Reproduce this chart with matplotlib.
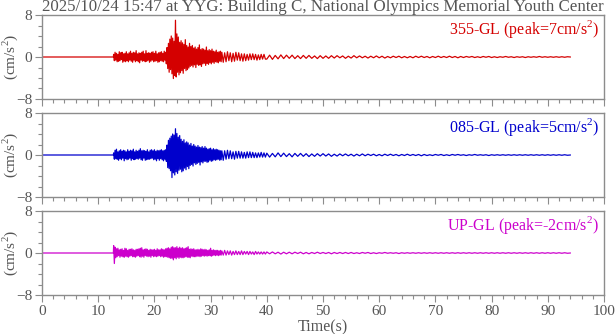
import numpy as np
import matplotlib.pyplot as plt

plt.rcParams['font.family'] = ['Liberation Serif', 'DejaVu Serif']
plt.rcParams['mathtext.fontset'] = 'custom'
plt.rcParams['mathtext.rm'] = 'Liberation Serif'

title = "2025/10/24 15:47 at YYG: Building C, National Olympics Memorial Youth Center"

# sampling grid: quiet lead-in, strong motion (0.125 s), late S (0.25 s), coda (0.5 s)
t_pre = [0.0, 12.7]
t_main = np.arange(12.75, 32.0, 0.125)
t_mid = np.arange(32.0, 40.0, 0.25)
t_coda = np.arange(40.0, 94.01, 0.5)

names = ["355-GL", "085-GL", "UP-GL"]
peaks = [7, 5, -2]
colors = ["#d40000", "#0000cc", "#cc00cc"]

ns_main = [0.5, -0.7,
           0.9, -0.6, 0.7, -0.9, 0.5, -0.8, 1.0, -0.7,
           0.8, -0.5, 0.9, -1.0, 0.6, -0.8, 0.7, -0.9,
           1.0, -0.7, 0.6, -0.9, 0.8, -0.6, 1.1, -0.8,
           0.7, -1.0, 0.9, -0.6, 0.8, -0.9, 1.2, -0.7,
           0.6, -0.9, 0.8, -1.1, 0.7, -0.6, 0.9, -0.8,
           1.1, -0.7, 0.6, -0.9, 1.2, -0.8, 0.7, -0.6,
           0.8, -1.0, 0.7, -0.8, 0.9, -0.6, 1.0, -0.9,
           0.7, -0.8, 1.1, -0.7, 0.6, -1.0, 0.8, -0.9,
           0.9, -0.7, 1.0, -0.8, 0.7, -0.9, 1.1, -0.6,
           0.9, -1.3, 1.8, -2.2, 2.6, -2.9, 3.4, -2.4,
           4.0, -3.2, 3.6, -4.1, 3.0, -3.5, 7.0, -3.8,
           4.4, -2.9, 3.8, -3.4, 2.8, -3.0, 3.1, -2.6,
           2.7, -3.1, 2.4, -2.2, 3.3, -2.6, 2.2, -2.4,
           1.9, -2.1, 2.6, -1.8, 2.0, -1.6, 2.2, -1.9,
           1.7, -1.5, 1.9, -2.0, 1.5, -1.4, 1.8, -1.6,
           2.3, -1.5, 1.4, -1.8, 1.6, -1.3, 1.5, -1.2,
           1.3, -1.6, 1.9, -1.2, 1.2, -1.4, 1.4, -1.1,
           1.2, -1.3, 1.5, -1.0, 1.1, -1.2, 1.0, -0.9,
           1.3, -1.0, 0.9, -1.1, 1.0, -0.8, 1.1, -0.9]
ns_mid = [0.9, -1.0, 0.8, -0.9, 1.0, -0.7, 0.8, -0.9,
          0.7, -0.8, 0.9, -0.6, 0.8, -0.7, 0.6, -0.8,
          0.6, -0.7, 0.5, -0.6, 0.6, -0.5, 0.6, -0.5,
          0.5, -0.6, 0.4, -0.5, 0.5, -0.4, 0.5, -0.4]
ns_coda = [-0.4, 0.35, -0.45, 0.3, -0.35, 0.4, -0.3, 0.35, -0.25, 0.35,
           -0.3, 0.25, -0.3, 0.3, -0.25, 0.3, -0.25, 0.2, -0.3, 0.25,
           -0.25, 0.2, -0.25, 0.25, -0.2, 0.25, -0.15, 0.2, -0.25, 0.15,
           -0.2, 0.25, -0.15, 0.2, -0.15, 0.15, -0.2, 0.15, -0.15, 0.2,
           -0.15, 0.15, -0.2, 0.1, -0.15, 0.15, -0.1, 0.15, -0.15, 0.1,
           -0.15, 0.1, -0.15, 0.15, -0.1, 0.15, -0.1, 0.1, -0.15, 0.1,
           -0.1, 0.15, -0.1, 0.1, -0.1, 0.15, -0.1, 0.1, -0.15, 0.1,
           -0.1, 0.1, -0.05, 0.1, -0.1, 0.05, -0.1, 0.1, -0.05, 0.1,
           -0.1, 0.05, -0.1, 0.05, -0.05, 0.1, -0.05, 0.05, -0.1, 0.05,
           -0.05, 0.05, -0.1, 0.05, -0.05, 0.05, -0.05, 0.1, -0.05, 0.05,
           -0.05, 0.05, -0.05, 0.05, -0.05, 0.05, -0.05, 0.05, 0.0]

ew_main = [0.4, -0.8,
           0.9, -0.7, 1.1, -0.8, 0.6, -1.0, 0.8, -0.7,
           1.0, -0.9, 0.7, -0.6, 0.9, -1.1, 0.8, -0.7,
           0.6, -0.9, 1.0, -0.8, 0.7, -0.6, 0.9, -1.0,
           0.8, -0.7, 1.1, -0.9, 0.6, -0.8, 0.9, -0.7,
           0.7, -0.8, 0.9, -0.6, 1.2, -0.9, 0.8, -1.0,
           0.9, -0.6, 0.8, -1.0, 0.7, -0.9, 1.0, -0.8,
           0.6, -0.8, 0.9, -0.7, 1.0, -0.6, 0.8, -0.9,
           1.0, -0.8, 0.7, -1.1, 0.9, -0.7, 0.8, -1.0,
           0.9, -0.7, 1.0, -0.9, 0.8, -1.1, 0.9, -0.8,
           1.0, -1.2, 1.9, -2.4, 2.8, -2.6, 3.2, -3.0,
           3.6, -4.3, 4.0, -3.4, 3.8, -3.8, 5.0, -3.2,
           4.1, -3.5, 3.4, -2.9, 3.7, -2.7, 3.0, -3.2,
           2.6, -3.0, 2.9, -2.5, 2.3, -2.8, 2.5, -2.2,
           2.3, -2.6, 1.9, -2.0, 2.2, -1.8, 1.7, -2.1,
           2.0, -1.5, 1.7, -1.8, 1.5, -1.6, 1.8, -1.4,
           1.5, -1.9, 1.4, -1.3, 1.6, -1.5, 1.3, -1.2,
           1.6, -1.2, 1.3, -1.4, 1.1, -1.3, 1.2, -1.0,
           1.3, -1.2, 1.0, -1.1, 1.2, -0.9, 1.0, -1.0,
           1.1, -0.9, 1.0, -0.8, 0.9, -1.0, 0.8, -0.9]
ew_mid = [0.8, -1.0, 0.8, -0.8, 0.9, -0.7, 0.8, -0.7,
          0.6, -0.8, 0.7, -0.6, 0.7, -0.6, 0.6, -0.6,
          0.5, -0.6, 0.6, -0.5, 0.6, -0.5, 0.5, -0.5,
          0.4, -0.5, 0.4, -0.4, 0.5, -0.4, 0.4, -0.4]
ew_coda = [0.35, -0.4, 0.3, -0.35, 0.4, -0.3, 0.35, -0.3, 0.25, -0.35,
           0.3, -0.25, 0.3, -0.25, 0.25, -0.3, 0.2, -0.25, 0.25, -0.2,
           0.25, -0.2, 0.2, -0.25, 0.15, -0.2, 0.2, -0.15, 0.2, -0.15,
           0.15, -0.2, 0.15, -0.15, 0.2, -0.15, 0.15, -0.1, 0.15, -0.15,
           0.1, -0.15, 0.15, -0.1, 0.15, -0.1, 0.1, -0.15, 0.1, -0.1,
           0.15, -0.1, 0.1, -0.1, 0.1, -0.15, 0.1, -0.1, 0.05, -0.1,
           0.1, -0.05, 0.1, -0.1, 0.05, -0.1, 0.1, -0.05, 0.1, -0.05,
           0.05, -0.1, 0.05, -0.05, 0.1, -0.05, 0.05, -0.05, 0.05, -0.1,
           0.05, -0.05, 0.05, -0.05, 0.05, -0.05, 0.05, -0.05, 0.05, -0.05,
           0.05, -0.05, 0.05, -0.05, 0.05, -0.05, 0.05, -0.05, 0.05, -0.05,
           0.05, -0.05, 0.05, -0.05, 0.05, -0.05, 0.05, -0.05, 0.0]

ud_main = [1.4, -2.0,
           1.1, -0.9, 0.8, -0.7, 0.9, -0.5, 0.6, -0.8,
           0.7, -0.6, 0.8, -0.7, 0.5, -0.8, 0.9, -0.6,
           0.8, -0.7, 0.5, -0.8, 0.7, -0.6, 0.7, -0.5,
           0.8, -0.7, 0.6, -0.7, 0.5, -0.8, 0.7, -0.6,
           0.7, -0.5, 0.8, -0.7, 0.9, -0.8, 1.0, -0.6,
           0.6, -0.8, 0.7, -0.5, 0.8, -0.6, 0.7, -0.7,
           0.5, -0.6, 0.7, -0.8, 0.6, -0.5, 0.6, -0.7,
           0.7, -0.6, 0.5, -0.7, 0.8, -0.6, 0.6, -0.5,
           0.6, -0.7, 0.8, -0.6, 0.7, -0.8, 0.6, -0.7,
           0.8, -0.7, 0.9, -0.8, 1.0, -0.9, 0.8, -1.0,
           1.1, -1.0, 1.2, -1.3, 1.0, -0.9, 1.0, -1.1,
           1.2, -0.8, 0.9, -1.0, 1.1, -0.8, 0.9, -0.9,
           1.0, -0.9, 0.8, -0.8, 0.9, -0.7, 1.0, -0.8,
           1.2, -0.8, 0.7, -0.9, 0.8, -0.6, 0.7, -0.7,
           0.8, -0.7, 0.6, -0.7, 0.6, -0.6, 0.7, -0.6,
           0.6, -0.7, 0.8, -0.6, 0.7, -0.5, 0.6, -0.6,
           0.7, -0.5, 0.6, -0.6, 0.5, -0.5, 0.6, -0.5,
           0.9, -0.6, 0.5, -0.5, 0.6, -0.4, 0.5, -0.5,
           0.5, -0.4, 0.5, -0.5, 0.4, -0.4, 0.5, -0.4]
ud_mid = [0.4, -0.4, 0.5, -0.4, 0.4, -0.3, 0.4, -0.4,
          0.3, -0.3, 0.4, -0.3, 0.3, -0.3, 0.4, -0.3,
          0.3, -0.2, 0.3, -0.3, 0.3, -0.2, 0.2, -0.3,
          0.3, -0.2, 0.2, -0.2, 0.2, -0.2, 0.2, -0.2]
ud_coda = [0.2, -0.15, 0.2, -0.15, 0.15, -0.2, 0.15, -0.15, 0.15, -0.15,
           0.15, -0.1, 0.15, -0.15, 0.1, -0.15, 0.1, -0.1, 0.15, -0.1,
           0.1, -0.1, 0.1, -0.15, 0.1, -0.1, 0.1, -0.1, 0.1, -0.1,
           0.1, -0.1, 0.05, -0.1, 0.1, -0.05, 0.1, -0.1, 0.05, -0.1,
           0.05, -0.05, 0.1, -0.05, 0.05, -0.05, 0.05, -0.1, 0.05, -0.05,
           0.05, -0.05, 0.05, -0.05, 0.05, -0.05, 0.05, -0.05, 0.05, -0.05,
           0.05, -0.05, 0.05, -0.05, 0.05, -0.05, 0.05, -0.05, 0.05, -0.05,
           0.05, -0.05, 0.05, -0.05, 0.05, -0.05, 0.05, -0.05, 0.05, -0.05,
           0.05, -0.05, 0.05, -0.05, 0.05, -0.05, 0.05, -0.05, 0.05, -0.05,
           0.05, -0.05, 0.05, -0.05, 0.05, -0.05, 0.05, -0.05, 0.05, -0.05,
           0.05, -0.05, 0.05, -0.05, 0.05, -0.05, 0.05, -0.05, 0.0]

traces = [(ns_main, ns_mid, ns_coda),
          (ew_main, ew_mid, ew_coda),
          (ud_main, ud_mid, ud_coda)]

gray = "#555555"
spine_gray = "#8c8c8c"

fig = plt.figure(figsize=(6.16, 3.34), dpi=100)
left, width = 42 / 616, 562 / 616
tops = [15, 113, 211]
height_px = 84

t = np.concatenate([t_pre, t_main, t_mid, t_coda])

axes = []
for i, (main, mid, coda) in enumerate(traces):
    top = tops[i]
    ax = fig.add_axes([left, 1 - (top + height_px) / 334, width, height_px / 334])
    a = np.concatenate([[0.0, 0.0], main, mid, coda])
    ax.plot(t, a, color=colors[i], lw=0.9)

    ax.set_xlim(0, 100)
    ax.set_ylim(-8, 8)
    ax.set_yticks([-8, 0, 8])
    ax.set_yticks(np.arange(-8, 9, 2), minor=True)
    ax.set_xticks(np.arange(0, 101, 10))
    ax.set_xticks(np.arange(0, 101, 2), minor=True)
    ax.tick_params(which='both', direction='out', colors=spine_gray,
                   labelcolor=gray, labelsize=11, top=False, right=False)
    ax.tick_params(which='major', length=5, width=0.8, pad=2)
    ax.tick_params(which='minor', length=3, width=0.8)
    for s in ax.spines.values():
        s.set_color(spine_gray)
        s.set_linewidth(1.0)
    ax.set_ylabel("(cm/s$^2$)", color=gray, fontsize=11)
    ax.yaxis.set_label_coords(-0.040, 0.5)
    if i < 2:
        ax.tick_params(labelbottom=False)
    ax.text(0.992, 0.97, f"{names[i]} (peak={peaks[i]}cm/s$^2$)",
            transform=ax.transAxes, ha='right', va='top',
            color=colors[i], fontsize=11.5)
    axes.append(ax)

axes[0].set_title(title, color=gray, fontsize=12.2, pad=1.5)
axes[-1].set_xlabel("Time(s)", color=gray, fontsize=11.5, labelpad=1)

fig.savefig("out.png", dpi=100)
